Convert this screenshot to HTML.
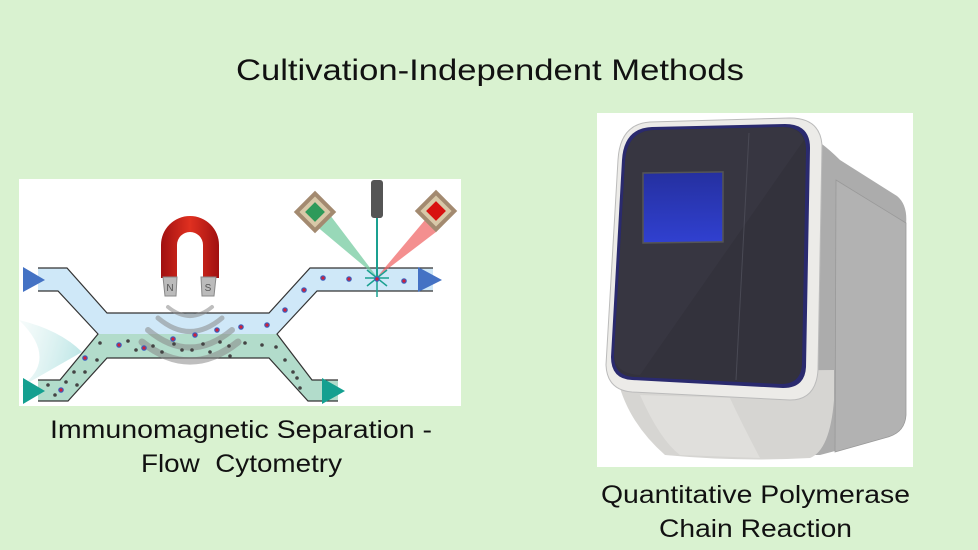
<!DOCTYPE html>
<html><head><meta charset="utf-8"><style>
html,body{margin:0;padding:0;}
body{width:978px;height:550px;background:#d9f2d0;overflow:hidden;font-family:"Liberation Sans",sans-serif;}
svg{display:block}
</style></head><body>
<svg width="978" height="550" viewBox="0 0 978 550" xmlns="http://www.w3.org/2000/svg">
<defs>
<linearGradient id="jet" x1="0" y1="0" x2="1" y2="0.3"><stop offset="0" stop-color="#b9e3e0" stop-opacity="0.2"/><stop offset="1" stop-color="#7fcfcf" stop-opacity="0.8"/></linearGradient>
<linearGradient id="mag" x1="0" y1="0" x2="1" y2="0"><stop offset="0" stop-color="#a01010"/><stop offset="0.5" stop-color="#e03020"/><stop offset="1" stop-color="#a01010"/></linearGradient>
<linearGradient id="scr" x1="0" y1="0" x2="0" y2="1"><stop offset="0" stop-color="#2530a0"/><stop offset="1" stop-color="#3040d0"/></linearGradient>
</defs>
<text x="236" y="80" font-size="30" textLength="508" lengthAdjust="spacingAndGlyphs" fill="#111">Cultivation-Independent Methods</text>

<!-- left image -->
<rect x="19" y="179" width="442" height="227" fill="#fff"/>
<path d="M19,388 Q60,360 19,320 Q60,330 82,352 Z" fill="url(#jet)" opacity="0.6"/>
<path d="M38,268 L67,268 L107,313 L269,313 L310,268 L433,268 L433,291 L317,291 L277,334 L98,334 L58,291 L38,291 Z" fill="#cfe8f8"/>
<path d="M98,334 L277,334 L312,380 L338,380 L338,401 L308,401 L269,358 L107,358 L68,401 L38,401 L38,380 L60,380 Z" fill="#b2dccb"/>
<g fill="none" stroke="#333" stroke-width="1.2">
<path d="M38,268 L67,268 L107,313 L269,313 L310,268 L433,268"/>
<path d="M38,291 L58,291 L98,334 L60,380 L38,380"/>
<path d="M433,291 L317,291 L277,334 L312,380 L338,380"/>
<path d="M38,401 L68,401 L107,358 L269,358 L308,401 L338,401"/>
</g>
<polygon points="23,267 23,292 45,280" fill="#4472c4"/>
<polygon points="418,267 418,292 442,280" fill="#4472c4"/>
<polygon points="23,378 23,404 45,391" fill="#14a090"/>
<polygon points="322,378 322,404 345,391" fill="#14a090"/>
<g fill="none" stroke="#888" stroke-opacity="0.55" stroke-linecap="round">
<path d="M168,307 Q190,325 212,307" stroke-width="4"/>
<path d="M158,318 Q190,345 222,318" stroke-width="5"/>
<path d="M148,330 Q190,365 232,330" stroke-width="6"/>
<path d="M142,342 Q190,380 238,342" stroke-width="7"/>
</g>
<path d="M161,278 L161,245 A29,29 0 0 1 219,245 L219,278 L203,278 L203,245 A13,13 0 0 0 177,245 L177,278 Z" fill="url(#mag)"/>
<path d="M163,277 L177,277 L176,296 L165,296 Z" fill="#bbb" stroke="#888"/>
<path d="M201,277 L216,277 L214,296 L202,296 Z" fill="#bbb" stroke="#888"/>
<text x="170" y="291" font-size="10" text-anchor="middle" fill="#555">N</text>
<text x="208" y="291" font-size="10" text-anchor="middle" fill="#555">S</text>
<polygon points="315,225 330,215 377,277" fill="#6cc79a" opacity="0.7"/>
<polygon points="425,220 436,232 377,277" fill="#f06060" opacity="0.7"/>
<line x1="377" y1="218" x2="377" y2="277" stroke="#1aa090" stroke-width="2"/>
<rect x="371" y="180" width="12" height="38" rx="3" fill="#555"/>
<g transform="translate(315,212) rotate(45)"><rect x="-15" y="-15" width="30" height="30" fill="#a38a70"/><rect x="-11" y="-11" width="22" height="22" fill="#d8c8a8"/><rect x="-7" y="-7" width="14" height="14" fill="#2e9a5a"/></g>
<g transform="translate(436,211) rotate(45)"><rect x="-15" y="-15" width="30" height="30" fill="#a38a70"/><rect x="-11" y="-11" width="22" height="22" fill="#d8c8a8"/><rect x="-7" y="-7" width="14" height="14" fill="#d81010"/></g>
<g stroke="#1aa090" stroke-width="1.5"><line x1="367" y1="270" x2="387" y2="286"/><line x1="367" y1="286" x2="387" y2="270"/><line x1="377" y1="266" x2="377" y2="297"/><line x1="365" y1="278" x2="389" y2="278"/></g>
<g fill="#444">
<circle cx="100" cy="343" r="1.8"/><circle cx="128" cy="341" r="1.8"/><circle cx="136" cy="350" r="1.8"/><circle cx="153" cy="346" r="1.8"/><circle cx="162" cy="352" r="1.8"/><circle cx="174" cy="344" r="1.8"/><circle cx="182" cy="350" r="1.8"/><circle cx="192" cy="350" r="1.8"/><circle cx="203" cy="344" r="1.8"/><circle cx="210" cy="352" r="1.8"/><circle cx="220" cy="342" r="1.8"/><circle cx="229" cy="346" r="1.8"/><circle cx="245" cy="343" r="1.8"/><circle cx="262" cy="345" r="1.8"/><circle cx="276" cy="347" r="1.8"/><circle cx="97" cy="360" r="1.8"/><circle cx="74" cy="372" r="1.8"/><circle cx="85" cy="372" r="1.8"/><circle cx="66" cy="382" r="1.8"/><circle cx="77" cy="385" r="1.8"/><circle cx="48" cy="385" r="1.8"/><circle cx="55" cy="395" r="1.8"/><circle cx="285" cy="360" r="1.8"/><circle cx="293" cy="372" r="1.8"/><circle cx="297" cy="378" r="1.8"/><circle cx="300" cy="388" r="1.8"/><circle cx="230" cy="356" r="1.8"/>
</g>
<g fill="#d0203a" stroke="#3a60c0" stroke-width="1.2">
<circle cx="85" cy="358" r="2.2"/><circle cx="61" cy="390" r="2.2"/><circle cx="119" cy="345" r="2.2"/><circle cx="144" cy="348" r="2.2"/><circle cx="173" cy="339" r="2.2"/><circle cx="195" cy="335" r="2.2"/><circle cx="217" cy="330" r="2.2"/><circle cx="241" cy="327" r="2.2"/><circle cx="267" cy="325" r="2.2"/><circle cx="285" cy="310" r="2.2"/><circle cx="304" cy="290" r="2.2"/><circle cx="323" cy="278" r="2.2"/><circle cx="349" cy="279" r="2.2"/><circle cx="377" cy="279" r="2.2"/><circle cx="404" cy="281" r="2.2"/>
</g>
<text x="50" y="438" font-size="25" textLength="382" lengthAdjust="spacingAndGlyphs" fill="#111">Immunomagnetic Separation -</text>
<text x="141" y="472" font-size="25" textLength="201" lengthAdjust="spacingAndGlyphs" fill="#111" xml:space="preserve">Flow  Cytometry</text>

<!-- right image -->
<rect x="597" y="113" width="316" height="354" fill="#fff"/>
<path d="M800,130 Q820,140 840,160 L897,196 Q908,205 906,225 L906,415 Q905,432 888,437 L820,455 L800,455 Z" fill="#acacac"/>
<path d="M836,180 L906,223 L906,415 Q905,432 888,437 L835,452 Z" fill="#b2b2b2" stroke="#999" stroke-width="0.8"/>
<path d="M616,372 Q625,420 665,455 Q740,462 810,458 Q830,450 834,400 L834,370 Z" fill="#d6d5d2"/>
<path d="M640,395 Q660,440 680,455 L760,458 Q740,420 730,398 Z" fill="#e0dfdc"/>
<path d="M650,122 L790,118 Q820,118 822,145 L818,370 Q816,400 790,400 L632,392 Q607,390 606,365 L618,160 Q620,124 650,122 Z" fill="#ecebe8" stroke="#bbb" stroke-width="1"/>
<path d="M652,127 L785,124 Q810,124 810,148 L806,367 Q805,388 783,388 L632,380 Q611,379 611,357 L622,160 Q624,128 652,127 Z" fill="#2a2a6e"/>
<path d="M654,130 L783,127 Q806,127 806,150 L802,364 Q801,384 781,384 L634,377 Q614,376 614,356 L625,162 Q627,131 654,130 Z" fill="#33323c"/>
<path d="M614,356 L625,162 Q627,131 654,130 L783,127 Q800,128 804,140 L640,375 Q616,374 614,356 Z" fill="#393843" opacity="0.7"/>
<line x1="749" y1="133" x2="736" y2="380" stroke="#4a4a55" stroke-width="1"/>
<rect x="643" y="182" width="80" height="70" fill="url(#scr)" stroke="#555" stroke-width="1.5" transform="skewY(-0.8)"/>
<text x="601" y="503" font-size="25" textLength="309" lengthAdjust="spacingAndGlyphs" fill="#111">Quantitative Polymerase</text>
<text x="659" y="537" font-size="25" textLength="193" lengthAdjust="spacingAndGlyphs" fill="#111">Chain Reaction</text>
</svg>
</body></html>
